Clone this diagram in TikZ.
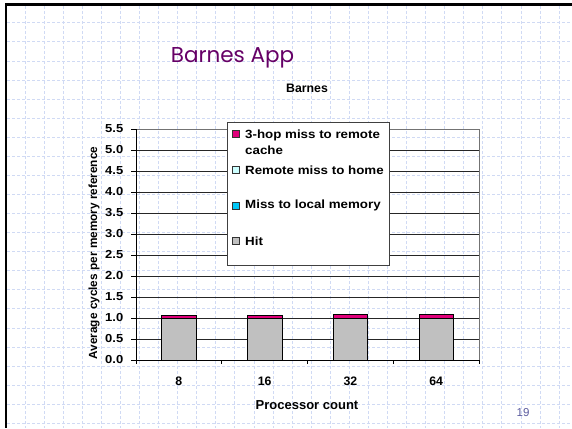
\documentclass[tikz,border=0pt]{standalone}
\usepackage{fontspec}
\setmainfont{Liberation Sans}
\newfontfamily\chartfont[FakeStretch=1.12]{Liberation Sans}
\newfontfamily\slidefont{Poppins}
\definecolor{gridblue}{HTML}{D0DAF4}
\definecolor{slidepurple}{HTML}{660066}
\definecolor{hitgray}{HTML}{C0C0C0}
\definecolor{localcyan}{HTML}{00C8F8}
\definecolor{homecyan}{HTML}{CCFFFF}
\definecolor{hopmagenta}{HTML}{E0007A}
\definecolor{pagenum}{HTML}{5A5A9E}

\begin{document}
\begin{tikzpicture}[x=1pt,y=-1pt,
gridline/.style={draw=gridblue, line width=0.6pt, dash pattern=on 3pt off 2pt},
axis/.style={draw=black, line width=0.8pt},
valline/.style={draw=black!85, line width=0.8pt},
bar/.style={draw=black, line width=0.7pt},
swatch/.style={rectangle, draw=black!80, line width=0.6pt, minimum size=7pt, inner sep=0pt},
legtext/.style={anchor=west, inner sep=0pt, font=\chartfont\bfseries\fontsize{11.9}{12}\selectfont},
ticklabel/.style={anchor=east, inner sep=0pt, font=\chartfont\bfseries\fontsize{11.6}{12}\selectfont},
catlabel/.style={inner sep=0pt, font=\bfseries\fontsize{12.3}{13}\selectfont},
info/.style={draw=none,fill=none,inner sep=0pt}]

%% local variables
\def \xl {136}
\def \xr {479}
\def \yz {360}
\def \ys {42}
\def \cw {85.75}
\def \bw {34.5}
\def \gs {19.07}

\useasboundingbox (0,0) rectangle (572,428);

%% background grid of the slide
\foreach \k in {0,...,28}
      \draw[gridline] ({25+\gs*\k},6) -- ({25+\gs*\k},428);
\foreach \k in {0,...,21}
      \draw[gridline] (7,{22.7+\gs*\k}) -- (572,{22.7+\gs*\k});

%% slide frame
\draw[line width=2.3pt] (572,4.5) -- (5.8,4.5) -- (5.8,428);

%% titles
\node[info, text=slidepurple, font=\slidefont\fontsize{21.5}{26}\selectfont] (title) at (232.5,57.5) {Barnes App};
\node[info, font=\bfseries\fontsize{12.3}{14}\selectfont] (charttitle) at (307,88) {Barnes};

%% value lines and y ticks
\foreach \v in {1,...,10}
      \draw[valline] (\xl,{\yz-\ys*\v/2}) -- (\xr,{\yz-\ys*\v/2});
\draw[draw=black!55, line width=0.8pt] (\xl,{\yz-\ys*5.5}) -- (\xr,{\yz-\ys*5.5}) -- (\xr,\yz);
\foreach \v in {0,...,11}
      \draw[axis] (131,{\yz-\ys*\v/2}) -- (\xl,{\yz-\ys*\v/2});
\foreach \v/\t in {0/0.0,1/0.5,2/1.0,3/1.5,4/2.0,5/2.5,6/3.0,7/3.5,8/4.0,9/4.5,10/5.0,11/5.5}
      \node[ticklabel] (Y-\v) at (123.5,{\yz-\ys*\v/2}) {\t};

%% bars: hit and 3-hop miss
\foreach \i/\h/\m in {1/1.0/0.065, 2/1.0/0.065, 3/1.0/0.085, 4/1.0/0.085} {
      \draw[bar, fill=hitgray] ({\xl+\cw*(\i-0.5)-\bw/2},\yz) rectangle ({\xl+\cw*(\i-0.5)+\bw/2},{\yz-\ys*\h});
      \draw[bar, fill=hopmagenta] ({\xl+\cw*(\i-0.5)-\bw/2},{\yz-\ys*\h}) rectangle ({\xl+\cw*(\i-0.5)+\bw/2},{\yz-\ys*(\h+\m)});
}

%% axes and x ticks
\draw[axis] (\xl,{\yz-\ys*5.5}) -- (\xl,\yz) -- (\xr,\yz);
\foreach \i in {0,...,4}
      \draw[axis] ({\xl+\cw*\i},\yz) -- ({\xl+\cw*\i},364);
\foreach \i/\t in {1/8, 2/16, 3/32, 4/64}
      \node[catlabel] (X-\i) at ({\xl+\cw*(\i-0.5)},381) {\t};

%% axis titles
\node[catlabel, font=\bfseries\fontsize{13}{14}\selectfont] (xtitle) at (307,405.5) {Processor count};
\node[info, rotate=90, font=\bfseries\fontsize{11.8}{13}\selectfont] (ytitle) at (94,253) {Average cycles per memory reference};

%% legend
\draw[draw=black!75, fill=white, line width=0.8pt] (227.3,122.3) rectangle (389,265.3);
\node[swatch, fill=hopmagenta] (L-1) at (236,133.7) {};
\node[swatch, fill=homecyan] (L-2) at (236,169.5) {};
\node[swatch, fill=localcyan] (L-3) at (236,205.3) {};
\node[swatch, fill=hitgray] (L-4) at (236,241.2) {};
\node[legtext] (T-1) at (245,135) {3-hop miss to remote};
\node[legtext] (T-1b) at (245,150.7) {cache};
\node[legtext] (T-2) at (245,170) {Remote miss to home};
\node[legtext] (T-3) at (245,205.7) {Miss to local memory};
\node[legtext] (T-4) at (245,241.6) {Hit};

%% page number
\node[info, text=pagenum, font=\fontsize{11.5}{13}\selectfont] (page) at (523,413) {19};

\end{tikzpicture}
\end{document}
